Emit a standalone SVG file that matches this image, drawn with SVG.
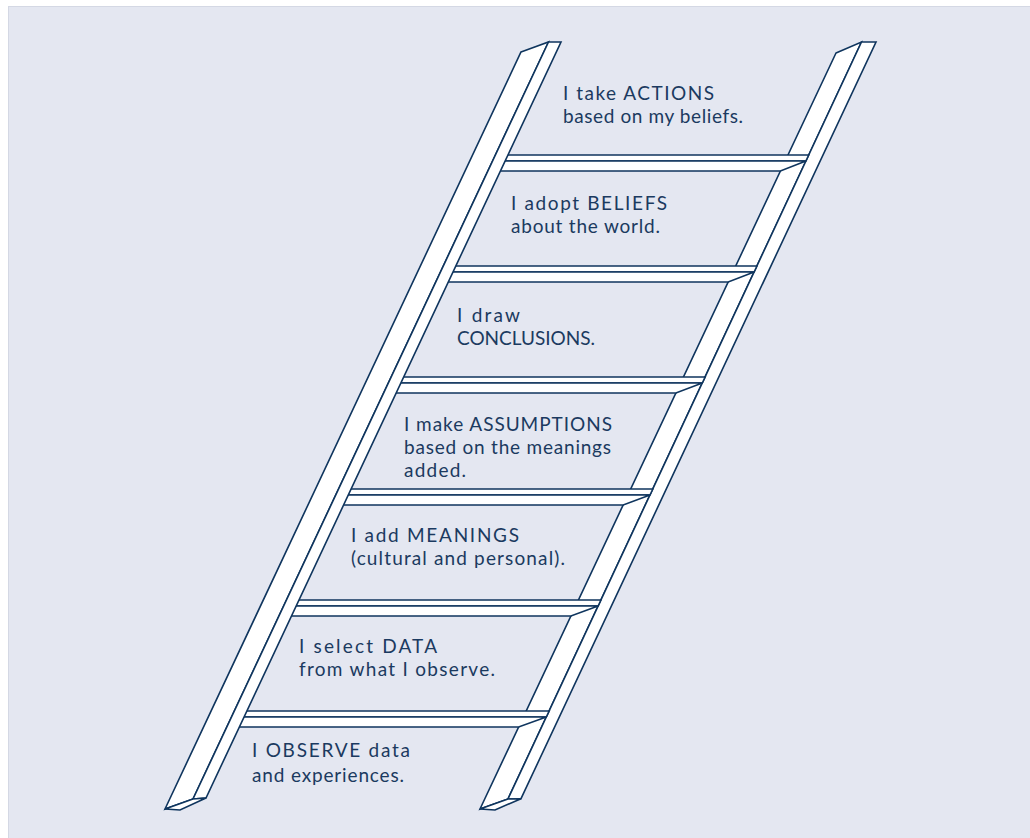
<svg xmlns="http://www.w3.org/2000/svg" width="1030" height="838" viewBox="0 0 1030 838">
<style>
.bg{fill:#e4e7f1;stroke:#d4d8e4;stroke-width:1}
.part{fill:#ffffff;stroke:#0f355e;stroke-width:1.6;stroke-linejoin:miter}
.lbl{font-family:Lato,"Open Sans","Liberation Sans",sans-serif;font-size:19px;fill:#1b3a60}
</style>
<rect class="bg" x="8.5" y="6.5" width="1030" height="840"/>
<g id="right-rail">
<polygon class="part" points="836,53 861.5,42 508,799 480,809"/>
<polygon class="part" points="861.5,42 876,42 521,798.7 508,799"/>
<polygon class="part" points="480,809 495,810 521,798.7 508,799"/>
</g>
<g id="connectors">
<g id="rung-1">
<polygon class="part" points="501.9,155 808.7,155 805.9,161 499.1,161"/>
<polygon class="part" points="499.1,161 805.9,161 780.4,171 494.4,171"/>
</g>
<g id="rung-2">
<polygon class="part" points="449.8,266 756.9,266 754.1,272 447,272"/>
<polygon class="part" points="447,272 754.1,272 728.2,282 442.3,282"/>
</g>
<g id="rung-3">
<polygon class="part" points="397.7,377 705.1,377 702.3,383 394.9,383"/>
<polygon class="part" points="394.9,383 702.3,383 675.9,393 390.2,393"/>
</g>
<g id="rung-4">
<polygon class="part" points="345.1,489 652.8,489 650,495 342.3,495"/>
<polygon class="part" points="342.3,495 650,495 623.2,505 337.6,505"/>
</g>
<g id="rung-5">
<polygon class="part" points="293,600 600.9,600 598.1,606 290.2,606"/>
<polygon class="part" points="290.2,606 598.1,606 570.9,616 285.5,616"/>
</g>
<g id="rung-6">
<polygon class="part" points="240.9,711 549.1,711 546.3,717 238,717"/>
<polygon class="part" points="238,717 546.3,717 518.6,727 233.3,727"/>
</g>
</g>
<g id="left-rail">
<polygon class="part" points="521,52 548.5,42 193,799 165,809"/>
<polygon class="part" points="548.5,42 561,42 206,798 193,799"/>
<polygon class="part" points="165,809 180,810 206,798 193,799"/>
</g>
<g id="step-actions"><text class="lbl" x="563" y="100" textLength="151" lengthAdjust="spacing">I take ACTIONS</text><text class="lbl" x="563" y="123" textLength="180" lengthAdjust="spacing">based on my beliefs.</text></g>
<g id="step-beliefs"><text class="lbl" x="511" y="210" textLength="156" lengthAdjust="spacing">I adopt BELIEFS</text><text class="lbl" x="511" y="233" textLength="149" lengthAdjust="spacing">about the world.</text></g>
<g id="step-conclusions"><text class="lbl" x="457" y="322" textLength="63" lengthAdjust="spacing">I draw</text><text class="lbl" x="457" y="345" textLength="138" lengthAdjust="spacing">CONCLUSIONS.</text></g>
<g id="step-assumptions"><text class="lbl" x="404" y="431" textLength="208" lengthAdjust="spacing">I make ASSUMPTIONS</text><text class="lbl" x="404" y="454" textLength="207" lengthAdjust="spacing">based on the meanings</text><text class="lbl" x="404" y="477" textLength="62" lengthAdjust="spacing">added.</text></g>
<g id="step-meanings"><text class="lbl" x="351" y="542" textLength="168" lengthAdjust="spacing">I add MEANINGS</text><text class="lbl" x="351" y="565" textLength="214" lengthAdjust="spacing">(cultural and personal).</text></g>
<g id="step-data"><text class="lbl" x="299" y="653" textLength="138" lengthAdjust="spacing">I select DATA</text><text class="lbl" x="299" y="676" textLength="196" lengthAdjust="spacing">from what I observe.</text></g>
<g id="step-observe"><text class="lbl" x="252" y="757" textLength="158" lengthAdjust="spacing">I OBSERVE data</text><text class="lbl" x="252" y="782" textLength="152" lengthAdjust="spacing">and experiences.</text></g>
</svg>
